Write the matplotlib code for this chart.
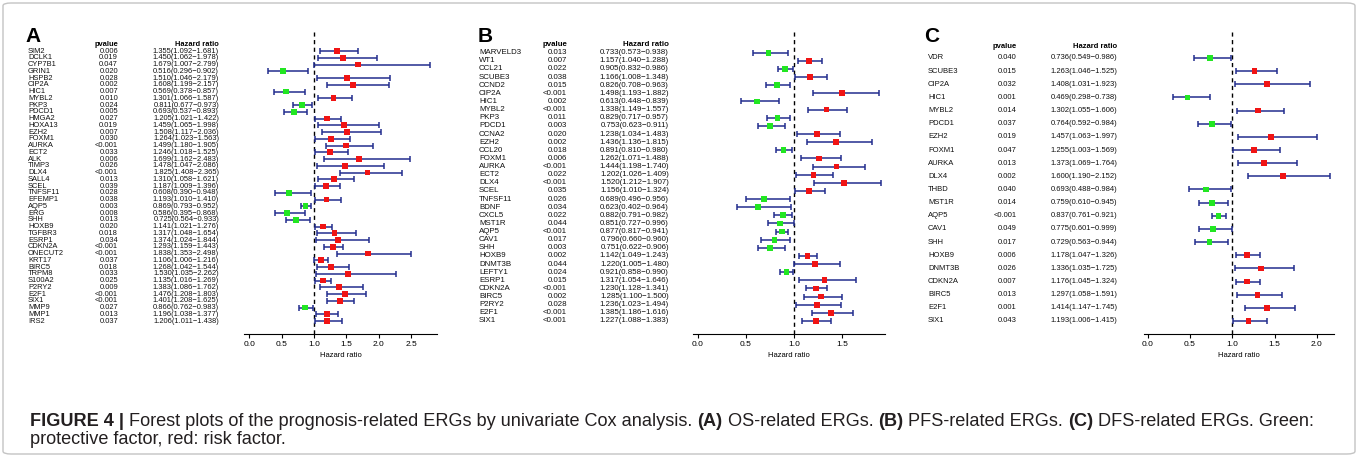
import matplotlib
matplotlib.use("Agg")
import matplotlib.pyplot as plt
from matplotlib import font_manager
from matplotlib.transforms import blended_transform_factory
from matplotlib.patches import FancyBboxPatch

# ---- panel A: OS-related ERGs ----
genes_a = ["SIM2", "DCLK1", "CYP7B1", "GRIN1", "HSPB2", "CIP2A", "HIC1", "MYBL2", "PKP3",
           "PDCD1", "HMGA2", "HOXA13", "EZH2", "FOXM1", "AURKA", "ECT2", "ALK", "TIMP3",
           "DLX4", "SALL4", "SCEL", "TNFSF11", "EFEMP1", "AQP5", "ERG", "SHH", "HOXB9",
           "TGFBR3", "ESRP1", "CDKN2A", "ONECUT2", "KRT17", "BIRC5", "TRPM8", "S100A2",
           "P2RY2", "E2F1", "SIX1", "MMP9", "MMP1", "IRS2"]
pval_a = ["0.006", "0.019", "0.047", "0.020", "0.028", "0.002", "0.007", "0.010", "0.024",
          "0.005", "0.027", "0.019", "0.007", "0.030", "<0.001", "0.033", "0.006", "0.026",
          "<0.001", "0.013", "0.039", "0.028", "0.038", "0.003", "0.008", "0.013", "0.020",
          "0.018", "0.034", "<0.001", "<0.001", "0.037", "0.018", "0.033", "0.025",
          "0.009", "<0.001", "<0.001", "0.027", "0.013", "0.037"]
hr_a = [1.355, 1.450, 1.679, 0.516, 1.510, 1.608, 0.569, 1.301, 0.811, 0.693, 1.205, 1.459,
        1.508, 1.264, 1.499, 1.246, 1.699, 1.478, 1.825, 1.310, 1.187, 0.608, 1.193, 0.869,
        0.586, 0.725, 1.141, 1.317, 1.374, 1.293, 1.838, 1.106, 1.268, 1.530, 1.135, 1.383,
        1.476, 1.401, 0.866, 1.196, 1.206]
lo_a = [1.092, 1.062, 1.007, 0.296, 1.046, 1.199, 0.378, 1.066, 0.677, 0.537, 1.021, 1.065,
        1.117, 1.023, 1.180, 1.018, 1.162, 1.047, 1.408, 1.058, 1.009, 0.390, 1.010, 0.793,
        0.395, 0.564, 1.021, 1.048, 1.024, 1.159, 1.353, 1.006, 1.042, 1.035, 1.016, 1.086,
        1.208, 1.208, 0.762, 1.038, 1.011]
hi_a = [1.681, 1.978, 2.799, 0.902, 2.179, 2.157, 0.857, 1.587, 0.973, 0.893, 1.422, 1.998,
        2.036, 1.563, 1.905, 1.525, 2.483, 2.086, 2.365, 1.621, 1.396, 0.948, 1.410, 0.952,
        0.868, 0.933, 1.276, 1.654, 1.844, 1.443, 2.498, 1.216, 1.544, 2.262, 1.269, 1.762,
        1.803, 1.625, 0.983, 1.377, 1.438]

# ---- panel B: PFS-related ERGs ----
genes_b = ["MARVELD3", "WT1", "CCL21", "SCUBE3", "CCND2", "CIP2A", "HIC1", "MYBL2", "PKP3",
           "PDCD1", "CCNA2", "EZH2", "CCL20", "FOXM1", "AURKA", "ECT2", "DLX4", "SCEL",
           "TNFSF11", "BDNF", "CXCL5", "MST1R", "AQP5", "CAV1", "SHH", "HOXB9", "DNMT3B",
           "LEFTY1", "ESRP1", "CDKN2A", "BIRC5", "P2RY2", "E2F1", "SIX1"]
pval_b = ["0.013", "0.007", "0.022", "0.038", "0.015", "<0.001", "0.002", "<0.001", "0.011",
          "0.003", "0.020", "0.002", "0.018", "0.006", "<0.001", "0.022", "<0.001", "0.035",
          "0.026", "0.034", "0.022", "0.044", "<0.001", "0.017", "0.003", "0.002", "0.044",
          "0.024", "0.015", "<0.001", "0.002", "0.028", "<0.001", "<0.001"]
hr_b = [0.733, 1.157, 0.905, 1.166, 0.826, 1.498, 0.613, 1.338, 0.829, 0.753, 1.238, 1.436,
        0.891, 1.262, 1.444, 1.202, 1.520, 1.156, 0.689, 0.623, 0.882, 0.851, 0.877, 0.796,
        0.751, 1.142, 1.220, 0.921, 1.317, 1.230, 1.285, 1.236, 1.385, 1.227]
lo_b = [0.573, 1.040, 0.832, 1.008, 0.708, 1.193, 0.448, 1.149, 0.717, 0.623, 1.034, 1.136,
        0.810, 1.071, 1.198, 1.026, 1.212, 1.010, 0.496, 0.402, 0.791, 0.727, 0.817, 0.660,
        0.622, 1.049, 1.005, 0.858, 1.054, 1.128, 1.100, 1.023, 1.186, 1.088]
hi_b = [0.938, 1.288, 0.986, 1.348, 0.963, 1.882, 0.839, 1.557, 0.957, 0.911, 1.483, 1.815,
        0.980, 1.488, 1.740, 1.409, 1.907, 1.324, 0.956, 0.964, 0.982, 0.996, 0.941, 0.960,
        0.906, 1.243, 1.480, 0.990, 1.646, 1.341, 1.500, 1.494, 1.616, 1.383]

# ---- panel C: DFS-related ERGs ----
genes_c = ["VDR", "SCUBE3", "CIP2A", "HIC1", "MYBL2", "PDCD1", "EZH2", "FOXM1", "AURKA",
           "DLX4", "THBD", "MST1R", "AQP5", "CAV1", "SHH", "HOXB9", "DNMT3B", "CDKN2A",
           "BIRC5", "E2F1", "SIX1"]
pval_c = ["0.040", "0.015", "0.032", "0.001", "0.014", "0.037", "0.019", "0.047", "0.013",
          "0.002", "0.040", "0.014", "<0.001", "0.049", "0.017", "0.006", "0.026", "0.007",
          "0.013", "0.001", "0.043"]
hr_c = [0.736, 1.263, 1.408, 0.469, 1.302, 0.764, 1.457, 1.255, 1.373, 1.600, 0.693, 0.759,
        0.837, 0.775, 0.729, 1.178, 1.336, 1.176, 1.297, 1.414, 1.193]
lo_c = [0.549, 1.046, 1.031, 0.298, 1.055, 0.592, 1.063, 1.003, 1.069, 1.190, 0.488, 0.610,
        0.761, 0.601, 0.563, 1.047, 1.035, 1.045, 1.058, 1.147, 1.006]
hi_c = [0.986, 1.525, 1.923, 0.738, 1.606, 0.984, 1.997, 1.569, 1.764, 2.152, 0.984, 0.945,
        0.921, 0.999, 0.944, 1.326, 1.725, 1.324, 1.591, 1.745, 1.415]

caption1 = [("FIGURE 4 |", True),
            ("Forest plots of the prognosis-related ERGs by univariate Cox analysis.", False),
            ("(A)", True), ("OS-related ERGs.", False),
            ("(B)", True), ("PFS-related ERGs.", False),
            ("(C)", True), ("DFS-related ERGs. Green:", False)]
caption2 = [("protective factor, red: risk factor.", False)]

W, H = 1358, 457


def has_font(name):
    try:
        font_manager.findfont(name, fallback_to_default=False)
        return True
    except ValueError:
        return False


NARROW = "Liberation Sans Narrow" if has_font("Liberation Sans Narrow") else "Liberation Sans"
plt.rcParams["font.family"] = ["Liberation Sans", "DejaVu Sans"]

fig = plt.figure(figsize=(W / 100, H / 100), dpi=100)

BLUE = "#232e8e"
RED = "#f01414"
GREEN = "#22e622"
TOP, AXIS_Y, LAST = 32, 334, 321


def fx(px):
    return px / W


def fy(py):
    return 1 - py / H


def forest(letter, genes, pvals, hr, lo, hi, lay):
    n = len(genes)
    step = (LAST - lay["first"]) / (n - 1)
    x0 = lay["zero"] + lay["xlim"][0] * lay["ppu"]
    x1 = lay["zero"] + lay["xlim"][1] * lay["ppu"]
    ax = fig.add_axes([fx(x0), fy(AXIS_Y), fx(x1) - fx(x0), (AXIS_Y - TOP) / H])
    ax.set_xlim(*lay["xlim"])
    ax.set_ylim((AXIS_Y - lay["first"]) / step, (TOP - lay["first"]) / step)
    for s in ["top", "right", "left"]:
        ax.spines[s].set_visible(False)
    ax.spines["bottom"].set_linewidth(0.8)
    ax.set_yticks([])
    ax.set_xticks(lay["ticks"])
    ax.set_xticklabels([f"{t:.1f}" for t in lay["ticks"]])
    ax.tick_params(axis="x", length=3, width=0.8, labelsize=6, pad=2)
    ax.set_xlabel("Hazard ratio", fontsize=5.5, labelpad=3)
    ax.patch.set_alpha(0)

    ax.axvline(1, color="black", lw=1.0, ls=(0, (3, 2.5)), zorder=1)
    ys = list(range(n))
    err = [[h - l for h, l in zip(hr, lo)], [u - h for h, u in zip(hr, hi)]]
    ax.errorbar(hr, ys, xerr=err, fmt="none", ecolor=BLUE, elinewidth=1.1,
                capsize=2.2, capthick=1.1, zorder=2)
    cols = [GREEN if h < 1 else RED for h in hr]
    ax.scatter(hr, ys, marker="s", s=17, c=cols, edgecolors="none", zorder=3)

    tr = blended_transform_factory(fig.transFigure, ax.transData)
    fam = [lay["font"], "DejaVu Sans"]
    fs = lay["size"]
    for i in range(n):
        ax.text(fx(lay["name"]), i, genes[i], transform=tr, ha="left", va="center",
                fontsize=fs, family=fam, color="#111111")
        ax.text(fx(lay["p"]), i, pvals[i], transform=tr, ha="right", va="center",
                fontsize=fs, family=fam, color="#111111")
        txt = f"{hr[i]:.3f}({lo[i]:.3f}\u2212{hi[i]:.3f})"
        ax.text(fx(lay["hr"]), i, txt, transform=tr, ha="right", va="center",
                fontsize=fs, family=fam, color="#111111")
    fig.text(fx(lay["p"]), fy(lay["head"]), "pvalue", ha="right", va="center",
             fontsize=fs, family=fam, fontweight="bold")
    fig.text(fx(lay["hr"]), fy(lay["head"]), "Hazard ratio", ha="right", va="center",
             fontsize=fs, family=fam, fontweight="bold")
    fig.text(fx(lay["letter"]), fy(36), letter, ha="left", va="center",
             fontsize=15, fontweight="bold")


forest("A", genes_a, pval_a, hr_a, lo_a, hi_a,
       dict(name=28, p=118, hr=219, zero=249.3, ppu=64.7, xlim=(-0.08, 2.9),
            ticks=[0, 0.5, 1.0, 1.5, 2.0, 2.5], first=51, head=44, font=NARROW, size=5.4,
            letter=25))
forest("B", genes_b, pval_b, hr_b, lo_b, hi_b,
       dict(name=479, p=567, hr=669, zero=698, ppu=96, xlim=(-0.05, 1.95),
            ticks=[0, 0.5, 1.0, 1.5], first=52.7, head=44.5, font="Liberation Sans", size=5.7,
            letter=478))
forest("C", genes_c, pval_c, hr_c, lo_c, hi_c,
       dict(name=928, p=1017, hr=1117, zero=1147.8, ppu=84.5, xlim=(-0.05, 2.2),
            ticks=[0, 0.5, 1.0, 1.5, 2.0], first=58, head=46, font="Liberation Sans", size=5.5,
            letter=924))

# ---- caption ----
CAP = [NARROW, "Liberation Sans"]
r = fig.canvas.get_renderer()


def width(s, size, bold):
    t = fig.text(0, 0, s, fontsize=size, family=CAP, fontweight="bold" if bold else "normal")
    w = t.get_window_extent(r).width
    t.remove()
    return w


def line_width(runs, size):
    gap = width("a a", size, False) - width("aa", size, False)
    return sum(width(s, size, b) for s, b in runs) + gap * (len(runs) - 1)


cap_size = 10 * 1285 / line_width(caption1, 10)


def caption_line(runs, x, y):
    gap = width("a a", cap_size, False) - width("aa", cap_size, False)
    for s, b in runs:
        t = fig.text(fx(x), fy(y), s, fontsize=cap_size, family=CAP,
                     fontweight="bold" if b else "normal", va="center", ha="left",
                     color="#231f20")
        x += t.get_window_extent(r).width + gap


caption_line(caption1, 30, 421)
caption_line(caption2, 30, 440)

border = FancyBboxPatch((fx(3), fy(454)), fx(1352), 451 / H,
                        boxstyle="round,pad=0,rounding_size=0.006",
                        transform=fig.transFigure, fill=False, edgecolor="#c4c4c4", lw=1.0)
fig.patches.append(border)

fig.savefig("out.png", dpi=100)
